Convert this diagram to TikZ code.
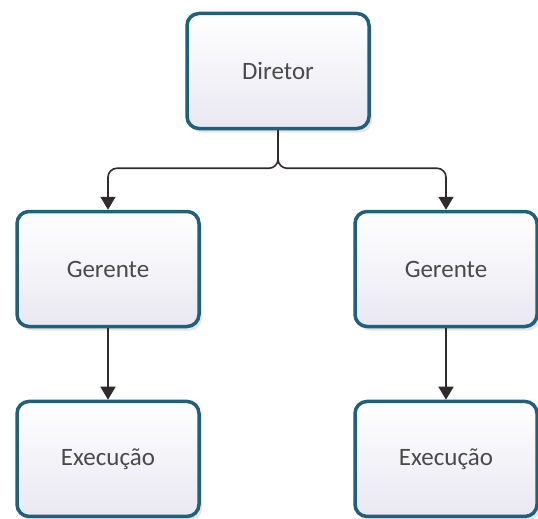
\documentclass[tikz,border=0pt]{standalone}
\usepackage{fontspec}
\setmainfont{Carlito}
\usetikzlibrary{arrows.meta, positioning, shadows}
\definecolor{borda}{HTML}{1F607A}
\definecolor{fundo}{HTML}{E9E8F1}
\definecolor{texto}{HTML}{4A4A4A}
\definecolor{seta}{HTML}{2E2A2E}

\begin{document}
\begin{tikzpicture}[x=1pt,y=1pt]
	\tikzstyle{cargo}=[draw=borda, line width=3.5pt, rounded corners=12pt, top color=white, bottom color=fundo, minimum width=182pt, minimum height=115pt, text=texto, font=\fontsize{25}{29}\selectfont, drop shadow={opacity=0.2, shadow xshift=3pt, shadow yshift=-4pt}]
	\tikzstyle{liga}=[draw=seta, line width=1.6pt, -{Triangle[width=15pt,length=13pt]}]
	\useasboundingbox (0,0) rectangle (538,-519);
	\node[cargo] (diretor) at (278,-71) {Diretor};
	\node[cargo] (gerenteE) at (108,-269) {Gerente};
	\node[cargo] (gerenteD) at (446,-269) {Gerente};
	\node[cargo, below=of gerenteE, yshift=-43pt] (execE) {Execução};
	\node[cargo, below=of gerenteD, yshift=-43pt] (execD) {Execução};
	\draw[liga, rounded corners=9pt] (diretor.south) -- ++(0,-38) -| (gerenteE.north);
	\draw[liga, rounded corners=9pt] (diretor.south) -- ++(0,-38) -| (gerenteD.north);
	\draw[liga] (gerenteE) -- (execE);
	\draw[liga] (gerenteD) -- (execD);
\end{tikzpicture}
\end{document}
